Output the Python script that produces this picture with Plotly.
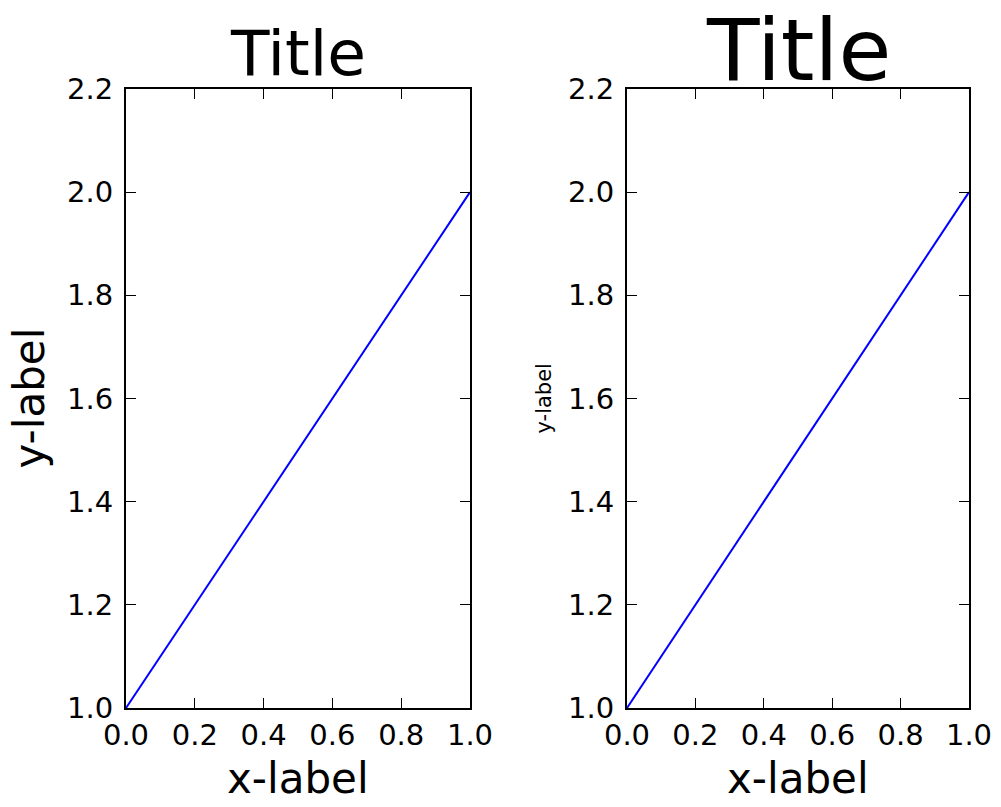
import plotly.graph_objects as go

x_vals = [0.0, 1.0]
y_vals = [1.0, 2.0]
x_ticks = [0.0, 0.2, 0.4, 0.6, 0.8, 1.0]
y_ticks = [1.0, 1.2, 1.4, 1.6, 1.8, 2.0, 2.2]
titles = ["Title", "Title"]
title_sizes = [63, 86]
xlabels = ["x-label", "x-label"]
ylabels = ["y-label", "y-label"]
ylabel_sizes = [42, 21]

W, H = 1001, 807
FONT = "DejaVu Sans"

def px(x):
    return x / W

def py(y):
    return (H - y) / H

x_domains = [[px(126), px(470)], [px(627), px(969)]]
y_domain = [py(708), py(89)]

fig = go.Figure()
axis_common = dict(
    showline=True, linecolor="black", linewidth=2, mirror="allticks",
    ticks="inside", ticklen=10, tickwidth=1, tickcolor="black",
    showgrid=False, zeroline=False, automargin=False,
    tickfont=dict(family=FONT, size=29, color="black"),
)

for i in range(2):
    xa = "x" if i == 0 else "x2"
    ya = "y" if i == 0 else "y2"
    fig.add_trace(go.Scatter(x=x_vals, y=y_vals, mode="lines",
                             line=dict(color="blue", width=2),
                             xaxis=xa, yaxis=ya, showlegend=False,
                             cliponaxis=False))

fig.update_layout(
    width=W, height=H,
    margin=dict(l=0, r=0, t=0, b=0),
    paper_bgcolor="white", plot_bgcolor="white",
    xaxis=dict(domain=x_domains[0], range=[0, 1], tickvals=x_ticks,
               tickformat=".1f", anchor="y", **axis_common),
    yaxis=dict(domain=y_domain, range=[1.0, 2.2], tickvals=y_ticks,
               tickformat=".1f", anchor="x", ticklabelstandoff=5, **axis_common),
    xaxis2=dict(domain=x_domains[1], range=[0, 1], tickvals=x_ticks,
                tickformat=".1f", anchor="y2", **axis_common),
    yaxis2=dict(domain=y_domain, range=[1.0, 2.2], tickvals=y_ticks,
                tickformat=".1f", anchor="x2", ticklabelstandoff=5, **axis_common),
)

annos = []
centers = [(x_domains[0][0] + x_domains[0][1]) / 2,
           (x_domains[1][0] + x_domains[1][1]) / 2]
title_y = [54, 50]
for i in range(2):
    annos.append(dict(text=titles[i], x=centers[i], y=py(title_y[i]),
                      xref="paper", yref="paper", xanchor="center", yanchor="middle",
                      showarrow=False,
                      font=dict(family=FONT, size=title_sizes[i], color="black")))
    annos.append(dict(text=xlabels[i], x=centers[i], y=py(778),
                      xref="paper", yref="paper", xanchor="center", yanchor="middle",
                      showarrow=False,
                      font=dict(family=FONT, size=42, color="black")))
ylabel_x = [29, 543]
for i in range(2):
    annos.append(dict(text=ylabels[i], x=px(ylabel_x[i]), y=(y_domain[0] + y_domain[1]) / 2,
                      xref="paper", yref="paper", xanchor="center", yanchor="middle",
                      textangle=-90, showarrow=False,
                      font=dict(family=FONT, size=ylabel_sizes[i], color="black")))
fig.update_layout(annotations=annos)

fig.write_html("out.html", config={"displayModeBar": False},
               post_script="document.body.style.margin='0';document.body.style.overflow='hidden';")
